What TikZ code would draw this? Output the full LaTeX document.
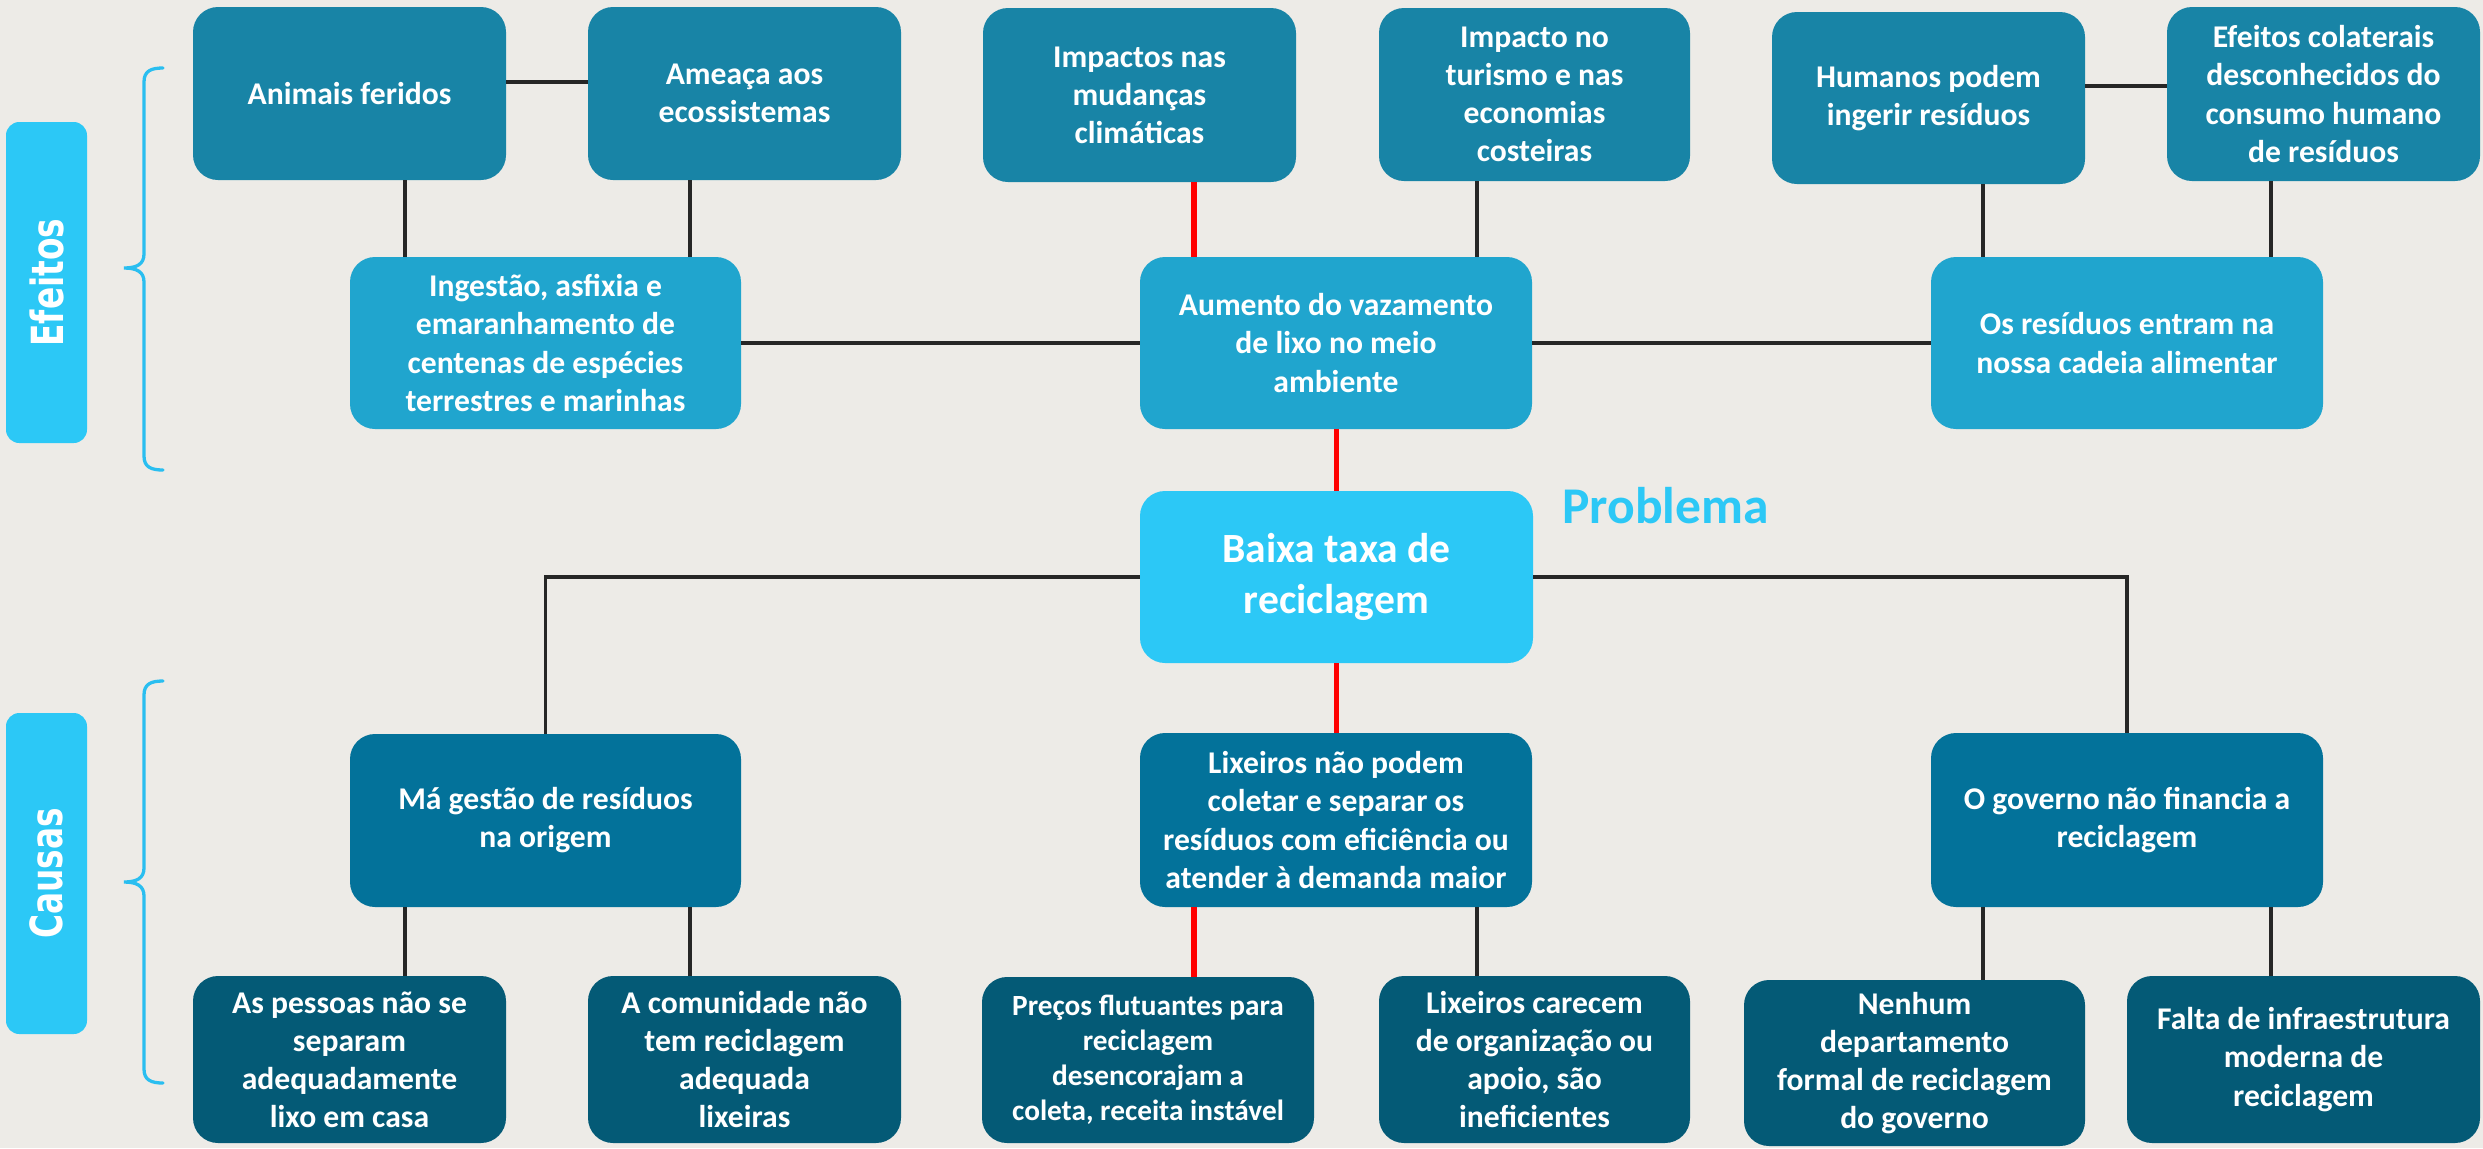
\documentclass[tikz,border=0pt]{standalone}
\usepackage{fontspec}
\setmainfont{Carlito}
\newfontfamily\lblfont{DejaVu Sans}
\usepackage{graphicx}
\usetikzlibrary{fit}
\definecolor{bgc}{RGB}{237,235,231}
\definecolor{effA}{RGB}{24,132,166}
\definecolor{effB}{RGB}{32,165,206}
\definecolor{probc}{RGB}{44,200,246}
\definecolor{cauA}{RGB}{3,114,154}
\definecolor{cauB}{RGB}{4,90,118}
\definecolor{linec}{RGB}{38,38,38}
\definecolor{redc}{RGB}{255,0,0}
\definecolor{brcc}{RGB}{42,190,240}
% \boxnode{name}{style}{x1}{y1}{x2}{y2}{text}
\newcommand\boxnode[7]{%
  \node[#2, fit={(#3,#4) (#5,#6)}] (#1) {};
  \node[txt] (#1-t) at (#1.center) {#7};}
\begin{document}
\begin{tikzpicture}[x=0.3mm,y=-0.3mm,
  box/.style={rounded corners=7.5mm, inner sep=0pt, draw=none},
  txt/.style={inner sep=0pt, align=center, text=white,
    font=\bfseries\fontsize{27}{32.5}\selectfont},
  eA/.style={box, fill=effA},
  eB/.style={box, fill=effB},
  pb/.style={box, fill=probc},
  cA/.style={box, fill=cauA},
  cB/.style={box, fill=cauB},
  blk/.style={draw=linec, line width=3.4pt},
  redl/.style={draw=redc, line width=4.3pt},
  lblbox/.style={fill=probc, rounded corners=4mm, inner sep=0pt, draw=none},
  lbltxt/.style={rotate=90, text=white, inner sep=0pt, font=\lblfont\bfseries\fontsize{28}{30}\selectfont},
  brc/.style={draw=brcc, line width=2.8pt, line cap=round}
]
\useasboundingbox (0,0) rectangle (2483,1148);
\fill[bgc] (0,0) rectangle (2483,1148);

% ---- Effects row 1
\boxnode{animais}{eA}{193}{7}{506}{180}{Animais feridos}
\boxnode{ameaca}{eA}{588}{7}{901}{180}{Ameaça aos\\ecossistemas}
\boxnode{impactos}{eA}{983}{8}{1296}{182}{Impactos nas\\mudanças\\climáticas}
\boxnode{turismo}{eA}{1379}{8}{1690}{181}{Impacto no\\turismo e nas\\economias\\costeiras}
\boxnode{humanos}{eA}{1772}{12}{2085}{184}{Humanos podem\\ingerir resíduos}
\boxnode{efcol}{eA}{2167}{7}{2480}{181}{Efeitos colaterais\\desconhecidos do\\consumo humano\\de resíduos}

% ---- Effects row 2
\boxnode{ingestao}{eB}{350}{257}{741}{429}{Ingestão, asfixia e\\emaranhamento de\\centenas de espécies\\terrestres e marinhas}
\boxnode{aumento}{eB}{1140}{257}{1532}{429}{Aumento do vazamento\\de lixo no meio\\ambiente}
\boxnode{residuos}{eB}{1931}{257}{2323}{429}{Os resíduos entram na\\nossa cadeia alimentar}

% ---- Problem
\node[pb, fit={(1140,491) (1533,663)}] (baixa) {};
\node[txt, font=\bfseries\fontsize{35.5}{44}\selectfont] (baixa-t) at (baixa.center) {Baixa taxa de\\reciclagem};
\node[anchor=base west, inner sep=0pt, text=probc, font=\bfseries\fontsize{44}{50}\selectfont] (problema) at (1562,523) {Problema};

% ---- Causes row 1
\boxnode{magestao}{cA}{350}{734}{741}{907}{Má gestão de resíduos\\na origem}
\boxnode{lixeiros}{cA}{1140}{733}{1532}{907}{Lixeiros não podem\\coletar e separar os\\resíduos com eficiência ou\\atender à demanda maior}
\boxnode{governo}{cA}{1931}{733}{2323}{907}{O governo não financia a\\reciclagem}

% ---- Causes row 2
\boxnode{pessoas}{cB}{193}{976}{506}{1143}{As pessoas não se\\separam\\adequadamente\\lixo em casa}
\boxnode{comunidade}{cB}{588}{976}{901}{1143}{A comunidade não\\tem reciclagem\\adequada\\lixeiras}
\node[cB, fit={(982,977) (1314,1143)}] (precos) {};
\node[txt, font=\bfseries\fontsize{25}{30}\selectfont] (precos-t) at (precos.center) {Preços flutuantes para\\reciclagem\\desencorajam a\\coleta, receita instável};
\boxnode{carecem}{cB}{1379}{976}{1690}{1143}{Lixeiros carecem\\de organização ou\\apoio, são\\ineficientes}
\boxnode{nenhum}{cB}{1744}{980}{2085}{1146}{Nenhum\\departamento\\formal de reciclagem\\do governo}
\boxnode{falta}{cB}{2127}{976}{2480}{1143}{Falta de infraestrutura\\moderna de\\reciclagem}

% ---- Side labels
\node[lblbox, fit={(6,122) (87,443)}] (efbox) {};
\node[lbltxt] (eftxt) at (efbox.center) {\scalebox{1}[1.35]{Efeitos}};
\node[lblbox, fit={(6,713) (87,1034)}] (cabox) {};
\node[lbltxt] (catxt) at (cabox.center) {\scalebox{1}[1.35]{Causas}};

% ---- Braces
\draw[brc] (163,68) .. controls (151,68) and (144,71) .. (144,82) -- (144,254)
  .. controls (144,264) and (137,268) .. (124,268)
  .. controls (137,268) and (144,272) .. (144,282) -- (144,456)
  .. controls (144,467) and (151,470) .. (163,470);
\draw[brc] (163,681) .. controls (151,681) and (144,684) .. (144,695) -- (144,868)
  .. controls (144,878) and (137,882) .. (124,882)
  .. controls (137,882) and (144,886) .. (144,896) -- (144,1069)
  .. controls (144,1080) and (151,1083) .. (163,1083);

% ---- Guide coordinates
\coordinate (hy1) at (0,82);
\coordinate (hy2) at (0,86);
\coordinate (vx1) at (405,0);
\coordinate (vx2) at (690,0);
\coordinate (vx3) at (1194,0);
\coordinate (vx4) at (1477,0);
\coordinate (vx5) at (1983,0);
\coordinate (vx6) at (2271,0);

% ---- Connectors (effects)
\draw[blk] (animais.east |- hy1) -- (ameaca.west |- hy1);
\draw[blk] (humanos.east |- hy2) -- (efcol.west |- hy2);
\draw[blk] (animais.south -| vx1) -- (ingestao.north -| vx1);
\draw[blk] (ameaca.south -| vx2) -- (ingestao.north -| vx2);
\draw[redl] (impactos.south -| vx3) -- (aumento.north -| vx3);
\draw[blk] (turismo.south -| vx4) -- (aumento.north -| vx4);
\draw[blk] (humanos.south -| vx5) -- (residuos.north -| vx5);
\draw[blk] (efcol.south -| vx6) -- (residuos.north -| vx6);
\draw[blk] (ingestao.east) -- (aumento.west);
\draw[blk] (aumento.east) -- (residuos.west);
\draw[redl] (aumento.south) -- (aumento.south |- baixa.north);

% ---- Connectors (causes)
\draw[blk] (baixa.west) -| (magestao.north);
\draw[blk] (baixa.east) -| (governo.north);
\draw[redl] (baixa.south) -- (baixa.south |- lixeiros.north);
\draw[blk] (magestao.south -| vx1) -- (pessoas.north -| vx1);
\draw[blk] (magestao.south -| vx2) -- (comunidade.north -| vx2);
\draw[redl] (lixeiros.south -| vx3) -- (precos.north -| vx3);
\draw[blk] (lixeiros.south -| vx4) -- (carecem.north -| vx4);
\draw[blk] (governo.south -| vx5) -- (nenhum.north -| vx5);
\draw[blk] (governo.south -| vx6) -- (falta.north -| vx6);
\end{tikzpicture}
\end{document}
